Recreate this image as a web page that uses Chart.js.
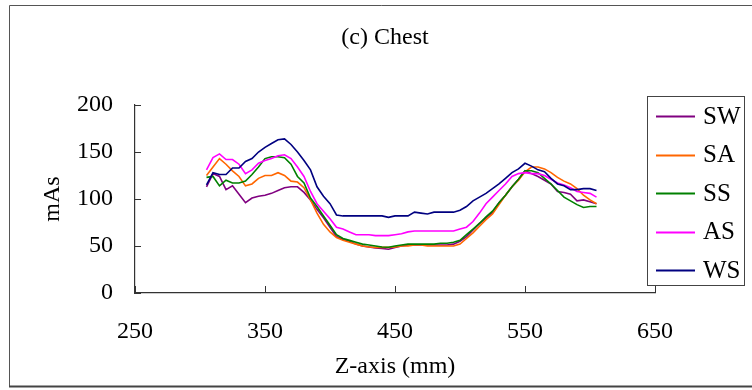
<!DOCTYPE html>
<html>
<head>
<meta charset="utf-8">
<script src="https://cdn.jsdelivr.net/npm/chart.js@4/dist/chart.umd.min.js"></script>
<style>
  html, body { margin: 0; padding: 0; background: #fff; }
  #wrap { width: 752px; height: 390px; position: relative; }
</style>
</head>
<body>
<div id="wrap"><canvas id="c" width="752" height="390"></canvas></div>
<script>
// Position along the patient (mm), one sample every 5 mm
const zAxisMm = [
  305,310,315,320,325,330,335,340,345,350,355,360,365,370,375,380,385,390,395,400,
  405,410,415,420,425,430,435,440,445,450,455,460,465,470,475,480,485,490,495,500,
  505,510,515,520,525,530,535,540,545,550,555,560,565,570,575,580,585,590,595,600,605
];

// Tube current-time product (mAs) for each modulation scheme
const swValues = [
  113,127,124,110,114,105,96,101,103,104,106,109,112,113,113,107,99,89,80,70,
  60,57,55,52,50,49,48,47.5,46.5,48.5,50,51,51,51,51,51,51,51,52,55,
  60,67,74,80,86,96,104,113,121,130,127,124,120,116,108,107,105,98,99,97,95
];
const saValues = [
  125,134,143,137,130,124,114,116,122,125,125,128,125,119,118,112,99,85,73,65,
  59,56,54,52,50,49,48.5,48.5,48.5,49,50,50,51,51,50,50,50,50,50,52,
  58,64,71,78,84,94,104,113,120,129,134,134,132,128,123,119,116,111,104,99,95
];
const ssValues = [
  123,124,114,120,117,117,119,126,134,143,145,145,144,137,124,117,101,92,82,72,
  62,58,56,54,52,51,50,49,48.6,50,51,52,52,52,52,52,53,53,54,56,
  62,68,74,81,87,96,104,113,121,130,130,128,122,116,109,102,98,94,91,92,92
];
const asValues = [
  131,144,148,142,142,137,127,131,138,141,143,146,147,143,134,124,108,95,87,79,
  70,68,65,62,62,62,61,61,61,62,63,65,66,66,66,66,66,66,66,68,
  70,76,85,95,102,109,116,124,127,128,127,127,125,121,117,115,112,108,107,106,102
];
const wsValues = [
  115,128,126,126,133,133,140,143,150,155,159,163,164,158,150,141,131,113,103,95,
  83,82,82,82,82,82,82,82,80.5,82,82,82,86,85,84,86,86,86,86,88,
  92,98,102,106,111,116,122,128,132,138,135,131,129,122,116,114,110,110,111,111,109
];

const seriesNames = ['SW', 'SA', 'SS', 'AS', 'WS'];
const seriesValues = [swValues, saValues, ssValues, asValues, wsValues];
const seriesColors = ['#800080', '#FF6600', '#008000', '#FF00FF', '#000080'];

const xTickValues = [250, 350, 450, 550, 650];
const yTickValues = [0, 50, 100, 150, 200];

const chartTitle = '(c) Chest';
const xTitle = 'Z-axis (mm)';
const yTitle = 'mAs';

const serif = '"Liberation Serif", "Times New Roman", serif';

// Outer frame, centred title and boxed legend
const decorations = {
  id: 'decorations',
  beforeDraw(chart) {
    const ctx = chart.ctx;
    ctx.save();
    ctx.fillStyle = '#fff';
    ctx.fillRect(0, 0, chart.width, chart.height);
    ctx.strokeStyle = '#555';
    ctx.lineWidth = 1;
    ctx.beginPath();
    ctx.moveTo(chart.width + 5, 5.5);
    ctx.lineTo(9.5, 5.5);
    ctx.lineTo(9.5, 386);
    ctx.stroke();
    ctx.strokeStyle = '#444';
    ctx.lineWidth = 2;
    ctx.beginPath();
    ctx.moveTo(9, 386.5);
    ctx.lineTo(chart.width + 5, 386.5);
    ctx.stroke();
    ctx.restore();
  },
  afterDraw(chart) {
    const ctx = chart.ctx;
    const xs = chart.scales.x, ys = chart.scales.y;
    ctx.save();
    // inside tick marks
    ctx.strokeStyle = '#333';
    ctx.lineWidth = 1;
    ctx.beginPath();
    xTickValues.forEach(v => {
      const px = Math.round(xs.getPixelForValue(v)) + 0.5;
      ctx.moveTo(px, ys.bottom);
      ctx.lineTo(px, ys.bottom - 7);
    });
    yTickValues.forEach(v => {
      const py = Math.round(ys.getPixelForValue(v)) + 0.5;
      ctx.moveTo(xs.left, py);
      ctx.lineTo(xs.left + 6, py);
    });
    ctx.stroke();

    // title
    ctx.fillStyle = '#000';
    ctx.font = '24px ' + serif;
    ctx.textAlign = 'center';
    ctx.textBaseline = 'middle';
    ctx.fillText(chartTitle, 385, 38);

    // legend box
    const bx = 647.5, by = 96.5, bw = 97, bh = 189;
    ctx.fillStyle = '#fff';
    ctx.fillRect(bx, by, bw, bh);
    ctx.strokeStyle = '#444';
    ctx.lineWidth = 1;
    ctx.strokeRect(bx, by, bw, bh);
    ctx.font = '25px ' + serif;
    ctx.textAlign = 'left';
    chart.data.datasets.forEach((ds, i) => {
      const cy = 116 + i * 38.6;
      ctx.strokeStyle = ds.borderColor;
      ctx.lineWidth = 2;
      ctx.beginPath();
      ctx.moveTo(656, Math.round(cy) + 0.5);
      ctx.lineTo(695, Math.round(cy) + 0.5);
      ctx.stroke();
      ctx.fillStyle = '#000';
      ctx.fillText(ds.label, 703, cy + 1);
    });
    ctx.restore();
  }
};

const datasets = seriesNames.map((name, i) => ({
  label: name,
  data: zAxisMm.map((z, k) => ({ x: z, y: seriesValues[i][k] })),
  borderColor: seriesColors[i],
  backgroundColor: seriesColors[i],
  borderWidth: 1.6,
  pointRadius: 0,
  tension: 0,
  fill: false,
  order: seriesNames.length - i
}));

new Chart(document.getElementById('c'), {
  type: 'line',
  data: { datasets },
  plugins: [decorations],
  options: {
    responsive: false,
    animation: false,
    layout: { padding: { top: 105, right: 97, bottom: 0, left: 0 } },
    plugins: {
      legend: { display: false },
      tooltip: { enabled: false },
      title: { display: false }
    },
    scales: {
      x: {
        type: 'linear',
        min: 250,
        max: 650,
        afterBuildTicks(scale) { scale.ticks = xTickValues.map(v => ({ value: v })); },
        afterFit(scale) { scale.height = 97; },
        grid: { display: false, drawTicks: false },
        border: { display: true, color: '#333', width: 1.2 },
        ticks: {
          color: '#000',
          font: { family: serif, size: 24 },
          padding: 24,
          maxRotation: 0,
          autoSkip: false
        },
        title: {
          display: true,
          text: xTitle,
          color: '#000',
          font: { family: serif, size: 24 },
          padding: { top: 0, bottom: 9 }
        }
      },
      y: {
        type: 'linear',
        min: 0,
        max: 200,
        afterBuildTicks(scale) { scale.ticks = yTickValues.map(v => ({ value: v })); },
        afterFit(scale) { scale.width = 135; },
        grid: { display: false, drawTicks: false },
        border: { display: true, color: '#333', width: 1.2 },
        ticks: {
          color: '#000',
          font: { family: serif, size: 24 },
          padding: 22,
          autoSkip: false
        },
        title: {
          display: true,
          text: yTitle,
          color: '#000',
          font: { family: serif, size: 24 },
          padding: { top: 38, bottom: 0 }
        }
      }
    }
  }
});
</script>
</body>
</html>
